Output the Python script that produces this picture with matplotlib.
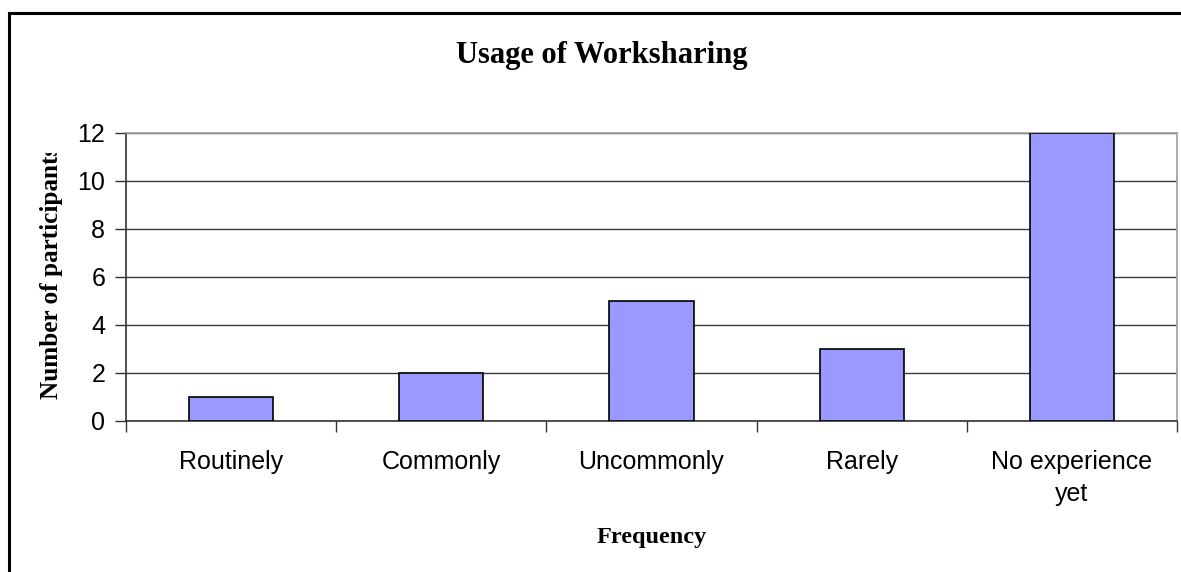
import matplotlib
matplotlib.use('Agg')
import matplotlib.pyplot as plt
from matplotlib.lines import Line2D
from matplotlib.transforms import Bbox

# Survey answers: how often participants use worksharing
categories = ['Routinely', 'Commonly', 'Uncommonly', 'Rarely', 'No experience\nyet']
participants = [1, 2, 5, 3, 12]
y_ticks = [0, 2, 4, 6, 8, 10, 12]

W, H, DPI = 1181, 572, 100
fig = plt.figure(figsize=(W / DPI, H / DPI), dpi=DPI)
fig.patch.set_facecolor('white')

# plot area placed in pixel terms
left, right, top, bottom = 126, 1177, 133, 421
ax = fig.add_axes([left / W, 1 - bottom / H, (right - left) / W, (bottom - top) / H])

x = list(range(len(categories)))
ax.bar(x, participants, width=0.4, color='#9999FF', edgecolor='black',
       linewidth=1.2, zorder=3)

ax.set_xlim(-0.5, len(categories) - 0.5)
ax.set_ylim(0, 12)
ax.set_yticks(y_ticks)
ax.yaxis.grid(True, color='#3a3a3a', linewidth=1.0, zorder=0)
ax.set_axisbelow(True)

sans = 'Liberation Sans'
serif = 'Liberation Serif'

ax.set_yticklabels([str(v) for v in y_ticks], fontsize=18, family=sans)
ax.tick_params(axis='y', direction='out', length=8, width=1, color='#333333', pad=7)

# category labels in the middle, tick marks on the boundaries
ax.set_xticks(x)
ax.set_xticklabels(categories, fontsize=18, family=sans, linespacing=1.4, va='top')
ax.tick_params(axis='x', which='major', length=0, pad=21)
ax.set_xticks([i - 0.5 for i in range(len(categories) + 1)], minor=True)
ax.tick_params(axis='x', which='minor', direction='out', length=8, width=1, color='#333333')

for s in ['top', 'right']:
    ax.spines[s].set_color('#a0a0a0')
    ax.spines[s].set_linewidth(1.2)
for s in ['left', 'bottom']:
    ax.spines[s].set_color('#333333')
    ax.spines[s].set_linewidth(1.2)

# titles
fig.text(602 / W, 1 - 56 / H, 'Usage of Worksharing', ha='center', va='center',
         fontsize=22, fontweight='bold', family=serif)
fig.text(652 / W, 1 - 537 / H, 'Frequency', ha='center', va='center',
         fontsize=17.5, fontweight='bold', family=serif)

# axis title is too long for the space and gets cut at the top
ylab = fig.text(52 / W, 1 - 272 / H, 'Number of participants', ha='center', va='center',
                rotation=90, fontsize=18.2, fontweight='bold', family=serif)
ylab.set_clip_on(True)
ylab.set_clip_box(Bbox([[0, 0], [W, H - 153]]))

# chart frame
fig.add_artist(Line2D([9 / W, 9 / W], [0, 1 - 13 / H], transform=fig.transFigure,
                      color='black', linewidth=2.2, solid_capstyle='projecting'))
fig.add_artist(Line2D([9 / W, 1], [1 - 13 / H, 1 - 13 / H], transform=fig.transFigure,
                      color='black', linewidth=2.2, solid_capstyle='projecting'))

fig.savefig('out.png', dpi=DPI, facecolor='white')
